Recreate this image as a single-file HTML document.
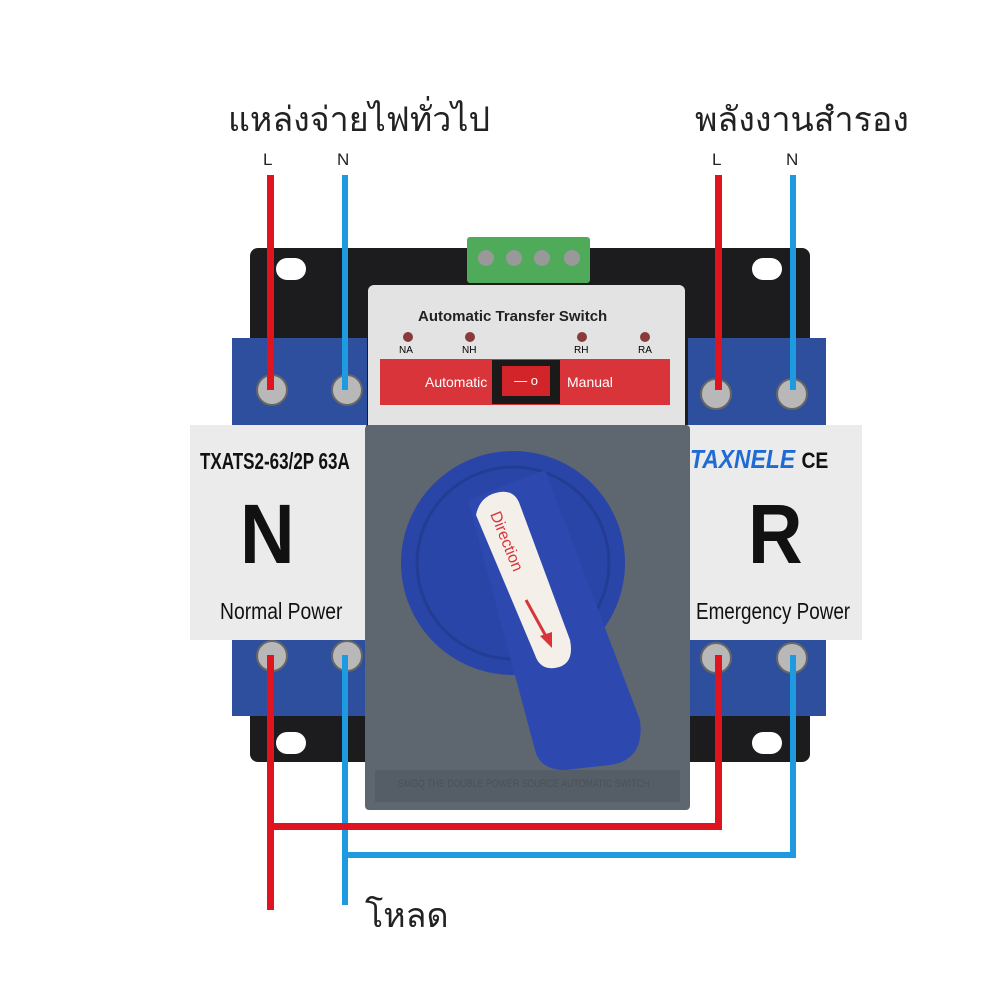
<!DOCTYPE html>
<html><head><meta charset="utf-8"><style>
body{margin:0;width:1000px;height:1000px;background:#fff;position:relative;overflow:hidden;font-family:"Liberation Sans","Noto Sans CJK SC",sans-serif}
.a{position:absolute}
.t{position:absolute;white-space:nowrap;transform-origin:0 0}
</style></head><body>
<div class="a" style="left:250px;top:248px;width:560px;height:514px;background:#1c1c1e;border-radius:8px"></div>
<div class="a" style="left:276px;top:258px;width:30px;height:22px;background:#fff;border-radius:11px"></div>
<div class="a" style="left:752px;top:258px;width:30px;height:22px;background:#fff;border-radius:11px"></div>
<div class="a" style="left:276px;top:732px;width:30px;height:22px;background:#fff;border-radius:11px"></div>
<div class="a" style="left:752px;top:732px;width:30px;height:22px;background:#fff;border-radius:11px"></div>
<div class="a" style="left:232px;top:338px;width:135px;height:90px;background:#2d4f9e"></div>
<div class="a" style="left:688px;top:338px;width:138px;height:90px;background:#2d4f9e"></div>
<div class="a" style="left:232px;top:636px;width:135px;height:80px;background:#2d4f9e"></div>
<div class="a" style="left:688px;top:636px;width:138px;height:80px;background:#2d4f9e"></div>
<div class="a" style="left:256px;top:374px;width:28px;height:28px;border-radius:50%;background:#b8b8b8;border:2px solid #666"></div>
<div class="a" style="left:331px;top:374px;width:28px;height:28px;border-radius:50%;background:#b8b8b8;border:2px solid #666"></div>
<div class="a" style="left:700px;top:378px;width:28px;height:28px;border-radius:50%;background:#b8b8b8;border:2px solid #666"></div>
<div class="a" style="left:776px;top:378px;width:28px;height:28px;border-radius:50%;background:#b8b8b8;border:2px solid #666"></div>
<div class="a" style="left:256px;top:640px;width:28px;height:28px;border-radius:50%;background:#b8b8b8;border:2px solid #666"></div>
<div class="a" style="left:331px;top:640px;width:28px;height:28px;border-radius:50%;background:#b8b8b8;border:2px solid #666"></div>
<div class="a" style="left:700px;top:642px;width:28px;height:28px;border-radius:50%;background:#b8b8b8;border:2px solid #666"></div>
<div class="a" style="left:776px;top:642px;width:28px;height:28px;border-radius:50%;background:#b8b8b8;border:2px solid #666"></div>
<div class="a" style="left:190px;top:425px;width:176px;height:215px;background:#ebebeb"></div>
<div class="a" style="left:683px;top:425px;width:179px;height:215px;background:#ebebeb"></div>
<div class="t" style="left:200px;top:448px;font:bold 23px 'Liberation Sans',sans-serif;color:#111;transform:scaleX(0.74)">TXATS2-63/2P 63A</div>
<div class="t" style="left:240px;top:486px;font:bold 84px 'Liberation Sans',sans-serif;color:#111;transform:scaleX(0.9)">N</div>
<div class="t" style="left:220px;top:598px;font:23px 'Liberation Sans',sans-serif;color:#111;transform:scaleX(0.84)">Normal Power</div>
<div class="t" style="left:690px;top:444px;font:italic bold 26px 'Liberation Sans',sans-serif;color:#1f6bd6;transform:scaleX(0.88)">TAXNELE <span style="color:#111;font-style:normal;font-size:22px">CE</span></div>
<div class="t" style="left:748px;top:486px;font:bold 84px 'Liberation Sans',sans-serif;color:#111;transform:scaleX(0.9)">R</div>
<div class="t" style="left:696px;top:598px;font:23px 'Liberation Sans',sans-serif;color:#111;transform:scaleX(0.82)">Emergency Power</div>
<div class="a" style="left:467px;top:237px;width:123px;height:46px;background:#4faa5a;border-radius:3px"></div>
<div class="a" style="left:478px;top:250px;width:16px;height:16px;border-radius:50%;background:#999"></div>
<div class="a" style="left:506px;top:250px;width:16px;height:16px;border-radius:50%;background:#999"></div>
<div class="a" style="left:534px;top:250px;width:16px;height:16px;border-radius:50%;background:#999"></div>
<div class="a" style="left:564px;top:250px;width:16px;height:16px;border-radius:50%;background:#999"></div>
<div class="a" style="left:368px;top:285px;width:317px;height:145px;background:#e3e3e3;border-radius:6px 6px 0 0"></div>
<div class="t" style="left:418px;top:308px;font:bold 15px 'Liberation Sans',sans-serif;color:#222">Automatic Transfer Switch</div>
<div class="a" style="left:403px;top:332px;width:10px;height:10px;border-radius:50%;background:#8a3a3a"></div>
<div class="a" style="left:465px;top:332px;width:10px;height:10px;border-radius:50%;background:#8a3a3a"></div>
<div class="a" style="left:577px;top:332px;width:10px;height:10px;border-radius:50%;background:#8a3a3a"></div>
<div class="a" style="left:640px;top:332px;width:10px;height:10px;border-radius:50%;background:#8a3a3a"></div>
<div class="t" style="left:399px;top:345px;font:10px 'Liberation Sans',sans-serif">NA</div>
<div class="t" style="left:462px;top:345px;font:10px 'Liberation Sans',sans-serif">NH</div>
<div class="t" style="left:574px;top:345px;font:10px 'Liberation Sans',sans-serif">RH</div>
<div class="t" style="left:638px;top:345px;font:10px 'Liberation Sans',sans-serif">RA</div>
<div class="a" style="left:380px;top:359px;width:290px;height:46px;background:#d8343a"></div>
<div class="t" style="left:425px;top:374px;font:14px 'Liberation Sans',sans-serif;color:#fff">Automatic</div>
<div class="t" style="left:567px;top:374px;font:14px 'Liberation Sans',sans-serif;color:#fff">Manual</div>
<div class="a" style="left:492px;top:360px;width:68px;height:44px;background:#1a1a1a"></div>
<div class="a" style="left:502px;top:366px;width:48px;height:30px;background:#d3242a;color:#fff;font:13px 'Liberation Sans';text-align:center;line-height:30px">— o</div>
<div class="a" style="left:365px;top:425px;width:325px;height:385px;background:#5e6770;border-radius:4px"></div>
<div class="a" style="left:375px;top:770px;width:305px;height:32px;background:#555e66"></div>
<div class="t" style="left:398px;top:778px;font:11px 'Liberation Sans';color:#4a5158;transform:scaleX(0.8)">SMGQ THE DOUBLE POWER SOURCE AUTOMATIC SWITCH</div>
<svg class="a" style="left:0;top:0" width="1000" height="1000">
<circle cx="513" cy="563" r="112" fill="#2a45a8"/>
<circle cx="513" cy="563" r="96" fill="none" stroke="#233c94" stroke-width="3"/>
<path d="M468 500 L545 470 L640 720 Q645 760 610 765 L565 770 Q540 770 535 750 Z" fill="#2d49b0"/>
<path d="M476 515 Q480 495 500 492 Q515 490 520 505 L570 640 Q575 665 555 668 Q540 670 535 655 Z" fill="#f4efe9"/>
<text transform="translate(490,514) rotate(68)" font-family="Liberation Sans" font-size="16" fill="#d8343a">Direction</text>
<line x1="526" y1="600" x2="548" y2="640" stroke="#d8343a" stroke-width="3"/>
<path d="M552 648 L540 636 L552 632 Z" fill="#d8343a"/>
</svg>
<div class="a" style="left:267px;top:175px;width:7px;height:215px;background:#e0141e"></div>
<div class="a" style="left:342px;top:175px;width:6px;height:215px;background:#1e9be0"></div>
<div class="a" style="left:715px;top:175px;width:7px;height:215px;background:#e0141e"></div>
<div class="a" style="left:790px;top:175px;width:6px;height:215px;background:#1e9be0"></div>
<div class="a" style="left:267px;top:655px;width:7px;height:255px;background:#e0141e"></div>
<div class="a" style="left:342px;top:655px;width:6px;height:250px;background:#1e9be0"></div>
<div class="a" style="left:715px;top:655px;width:7px;height:175px;background:#e0141e"></div>
<div class="a" style="left:790px;top:655px;width:6px;height:203px;background:#1e9be0"></div>
<div class="a" style="left:267px;top:823px;width:455px;height:7px;background:#e0141e"></div>
<div class="a" style="left:342px;top:852px;width:454px;height:6px;background:#1e9be0"></div>
<div class="t" style="left:228px;top:92px;font:34px 'Liberation Sans','Noto Sans CJK SC',sans-serif;color:#222">แหล่งจ่ายไฟทั่วไป</div>
<div class="t" style="left:695px;top:92px;font:34px 'Liberation Sans','Noto Sans CJK SC',sans-serif;color:#222">พลังงานสำรอง</div>
<div class="t" style="left:263px;top:150px;font:17px 'Liberation Sans';color:#222">L</div>
<div class="t" style="left:337px;top:150px;font:17px 'Liberation Sans';color:#222">N</div>
<div class="t" style="left:712px;top:150px;font:17px 'Liberation Sans';color:#222">L</div>
<div class="t" style="left:786px;top:150px;font:17px 'Liberation Sans';color:#222">N</div>
<div class="t" style="left:365px;top:888px;font:34px 'Liberation Sans','Noto Sans CJK SC',sans-serif;color:#222">โหลด</div>
</body></html>
